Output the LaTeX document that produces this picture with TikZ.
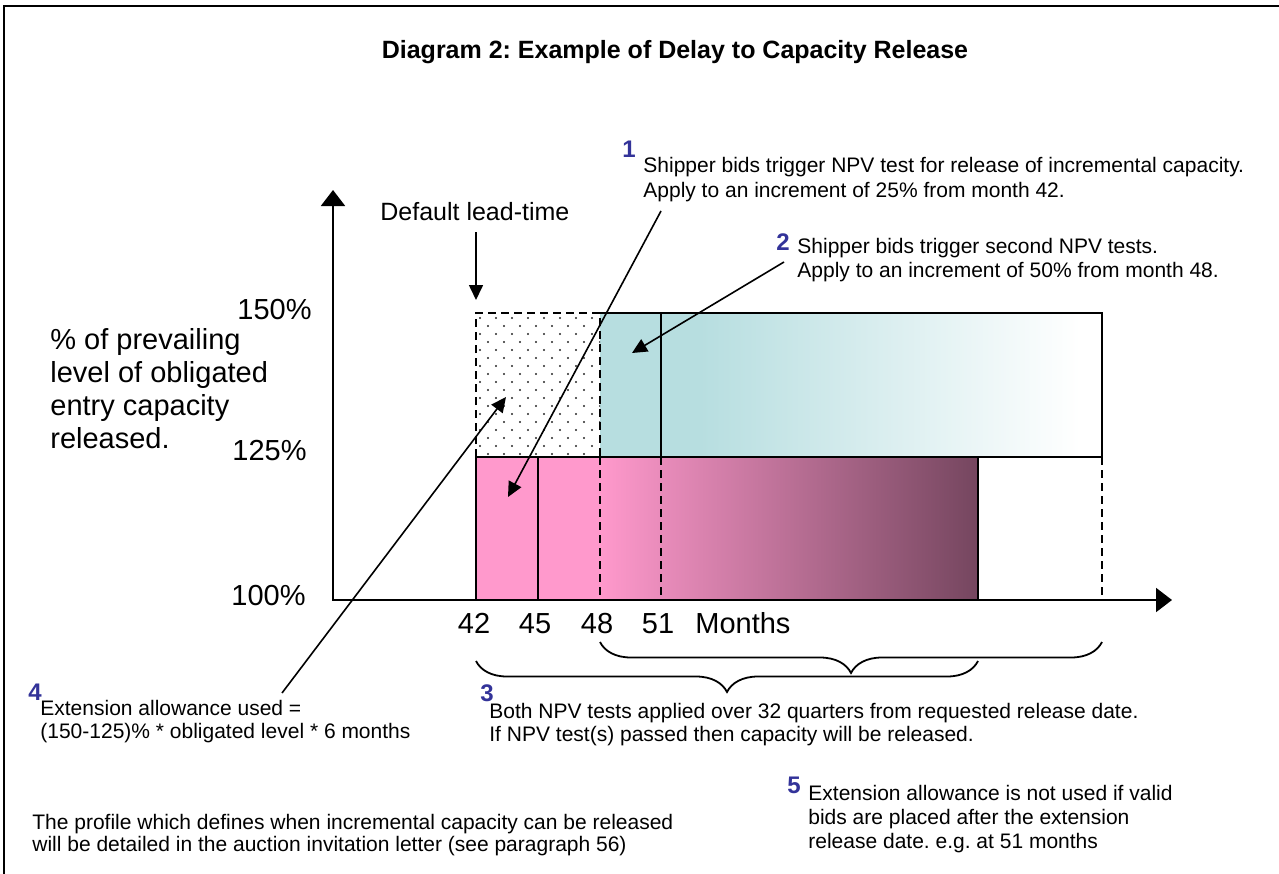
\documentclass[tikz,border=0pt]{standalone}
\usepackage{fontspec}
\setmainfont{Liberation Sans}
\usetikzlibrary{arrows.meta,decorations.pathreplacing}
\frenchspacing

\definecolor{tealbox}{RGB}{183,222,224}
\definecolor{pinkbox}{RGB}{255,153,204}
\definecolor{plumbox}{RGB}{117,70,95}
\definecolor{stepblue}{RGB}{51,51,153}

\begin{document}
\begin{tikzpicture}[x=0.5pt, y=-0.5pt,
    note/.style={anchor=north west, inner sep=0pt, align=left, font=\fontsize{10.5}{12}\selectfont},
    stepnum/.style={inner sep=0pt, text=stepblue, font=\fontsize{12}{14}\selectfont\bfseries},
    ticklabel/.style={anchor=base, inner sep=0pt, font=\fontsize{14.5}{17}\selectfont},
    levellabel/.style={anchor=base east, inner sep=0pt, font=\fontsize{14.5}{17}\selectfont},
    axis/.style={{Triangle[length=8pt,width=12pt]}-{Triangle[length=8pt,width=12pt]}, line width=1pt},
    arrow/.style={-{Triangle[length=7.5pt,width=7pt]}, line width=0.8pt},
    outline/.style={line width=0.8pt},
    dashline/.style={line width=0.8pt, dash pattern=on 4pt off 2.5pt},
    brace/.style={decorate, decoration={brace, mirror, amplitude=15.5pt}, line width=0.9pt}
]
    \useasboundingbox (0,0) rectangle (1279,873);

    % Frame
    \draw[line width=1pt] (4,880) -- (4,6) -- (1285,6);

    % Title
    \node[anchor=base, inner sep=0pt, font=\fontsize{12.5}{15}\selectfont\bfseries] (title) at (675,58) {Diagram 2: Example of Delay to Capacity Release};

    % Shaded increments
    \fill[tealbox] (600,313) rectangle (701,457);
    \shade[left color=tealbox, right color=white] (700,313) rectangle (1080,457);
    \fill[white] (1079,313) rectangle (1102,457);
    \fill[pinkbox] (476,457) rectangle (601,600);
    \shade[left color=pinkbox, right color=plumbox] (600,457) rectangle (978,600);

    % Dotted lead-time area
    \begin{scope}
        \clip (476,313) rectangle (600,457);
        \foreach \r [evaluate=\r as \off using {8*mod(\r,2)}] in {0,...,17}
            \foreach \c in {0,...,8}
                \fill[black!85] (480+\off+16*\c, 318+8*\r) circle (0.6pt);
    \end{scope}

    % Box outlines
    \draw[dashline] (476,457) -- (476,313) -- (600,313) -- (600,457);
    \draw[outline] (600,313) -- (1102,313) -- (1102,457) -- (476,457) -- (476,600);
    \draw[outline] (661,313) -- (661,457);
    \draw[outline] (538,457) -- (538,600);
    \draw[outline] (978,457) -- (978,600);
    \foreach \xx in {600,661,1102}
        \draw[dashline] (\xx,457) -- (\xx,600);

    % Axes
    \coordinate (origin) at (333,600);
    \coordinate (ytip) at (333,190);
    \coordinate (xtip) at (1172,600);
    \draw[axis] (ytip) -- (origin) -- (xtip);

    % Axis labels
    \node[levellabel] (l150) at (312,319) {150\%};
    \node[levellabel] (l125) at (307,460) {125\%};
    \node[levellabel] (l100) at (306,605) {100\%};
    \foreach \m/\xx in {42/474,45/535,48/597,51/658}
        \node[ticklabel] (tick\m) at (\xx,633) {\m};
    \node[ticklabel, anchor=base west] (months) at (695,633) {Months};
    \node[anchor=north west, inner sep=0pt, align=left, font=\fontsize{14.5}{16.5}\selectfont] (ylabel) at (50,328) {\% of prevailing\\level of obligated\\entry capacity\\released.};

    % Default lead-time
    \node[anchor=base west, inner sep=0pt, font=\fontsize{12.5}{15}\selectfont] (lead) at (380,220) {Default lead-time};
    \coordinate (leadtail) at (476,232);
    \coordinate (leadtip) at (476,300);
    \draw[arrow] (leadtail) -- (leadtip);

    % Notes
    \node[stepnum] (num1) at (629,149) {1};
    \node[note, font=\fontsize{10.5}{12.5}\selectfont] (note1) at (643,157) {Shipper bids trigger NPV test for release of incremental capacity.\\Apply to an increment of 25\% from month 42.};
    \node[stepnum] (num2) at (783,242) {2};
    \node[note] (note2) at (797,238) {Shipper bids trigger second NPV tests.\\Apply to an increment of 50\% from month 48.};
    \node[stepnum] (num3) at (487,693) {3};
    \node[note, font=\fontsize{10.5}{11.5}\selectfont] (note3) at (489,703) {Both NPV tests applied over 32 quarters from requested release date.\\If NPV test(s) passed then capacity will be released.};
    \node[stepnum] (num4) at (35,692) {4};
    \node[note, font=\fontsize{10.5}{11.5}\selectfont] (note4) at (40,700) {Extension allowance used =\\(150-125)\% * obligated level * 6 months};
    \node[stepnum] (num5) at (794,785) {5};
    \node[note] (note5) at (808,785) {Extension allowance is not used if valid\\bids are placed after the extension\\release date. e.g. at 51 months};
    \node[note, font=\fontsize{10.5}{11}\selectfont] (profile) at (32,814) {The profile which defines when incremental capacity can be released\\will be detailed in the auction invitation letter (see paragraph 56)};

    % Pointers
    \coordinate (tail1) at (661,211);
    \coordinate (head1) at (508,497);
    \coordinate (tail2) at (784,262);
    \coordinate (head2) at (632,353);
    \coordinate (tail4) at (282,693);
    \coordinate (head4) at (506,397);
    \draw[arrow] (tail1) -- (head1);
    \draw[arrow] (tail2) -- (head2);
    \draw[arrow] (tail4) -- (head4);

    % Braces
    \coordinate (span2a) at (600,642);
    \coordinate (span2b) at (1102,642);
    \coordinate (span1a) at (476,661);
    \coordinate (span1b) at (978,661);
    \draw[brace] (span2a) -- (span2b);
    \draw[brace] (span1a) -- (span1b);
\end{tikzpicture}
\end{document}
